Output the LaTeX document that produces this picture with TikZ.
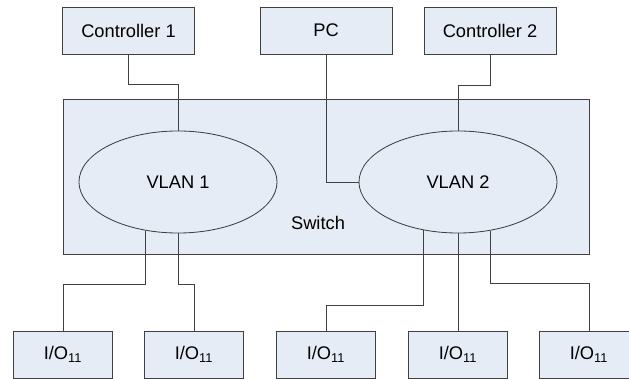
\documentclass[tikz,border=0pt]{standalone}
\usepackage{fontspec}
\setmainfont{Liberation Sans}
\definecolor{boxFill}{RGB}{230,236,246}
\definecolor{boxLine}{RGB}{64,64,64}
\usetikzlibrary{shapes.geometric}

\begin{document}
\begin{tikzpicture}[
  x=0.025cm, y=-0.025cm,
  box/.style={
    draw=boxLine, fill=boxFill, line width=0.6pt,
    minimum width=3.3cm, minimum height=1.175cm, inner sep=0pt,
    font=\fontsize{13}{15}\selectfont
  },
  iobox/.style={box, minimum width=2.48cm},
  vlan/.style={
    ellipse, draw=boxLine, fill=boxFill, line width=0.6pt,
    minimum width=4.95cm, minimum height=2.55cm, inner sep=0pt,
    font=\fontsize{13}{15}\selectfont
  },
  wire/.style={draw=boxLine, line width=0.6pt}
]
  \useasboundingbox (0,0) rectangle (629,379);
  \begin{scope}
  \clip (0,0) rectangle (629,379);
  \node[box] (C1) at (128.5,30.5) {Controller 1};
  \node[box] (PC) at (326,30.5) {PC};
  \node[box] (C2) at (490,30.5) {Controller 2};
  \node[box, minimum width=13.15cm, minimum height=3.875cm] (SW) at (326,176.5) {};
  \node[font=\fontsize{13}{15}\selectfont] (swlbl) at (318,223) {Switch};
  \node[vlan] (V1) at (178,182) {VLAN 1};
  \node[vlan] (V2) at (458,182) {VLAN 2};
  \node[iobox] (IO1) at (63,354.5) {I/O\textsubscript{11}};
  \node[iobox] (IO2) at (194,354.5) {I/O\textsubscript{11}};
  \node[iobox] (IO3) at (326,354.5) {I/O\textsubscript{11}};
  \node[iobox] (IO4) at (458,354.5) {I/O\textsubscript{11}};
  \node[iobox] (IO5) at (589,354.5) {I/O\textsubscript{11}};
  \draw[wire] (C1.south) -- ++(0,30) -| (V1.north);
  \draw[wire] (PC.south) |- (V2.west);
  \draw[wire] (C2.south) -- ++(0,31) -| (V2.north);
  \draw[wire] (IO1.north) -- ++(0,-46) -| (V1.236);
  \draw[wire] (IO2.north) -- ++(0,-46) -| (V1.south);
  \draw[wire] (IO3.north) -- ++(0,-25) -| (V2.234);
  \draw[wire] (IO4.north) -- (V2.south);
  \draw[wire] (IO5.north) -- ++(0,-47) -| (V2.304);
  \end{scope}
\end{tikzpicture}
\end{document}
